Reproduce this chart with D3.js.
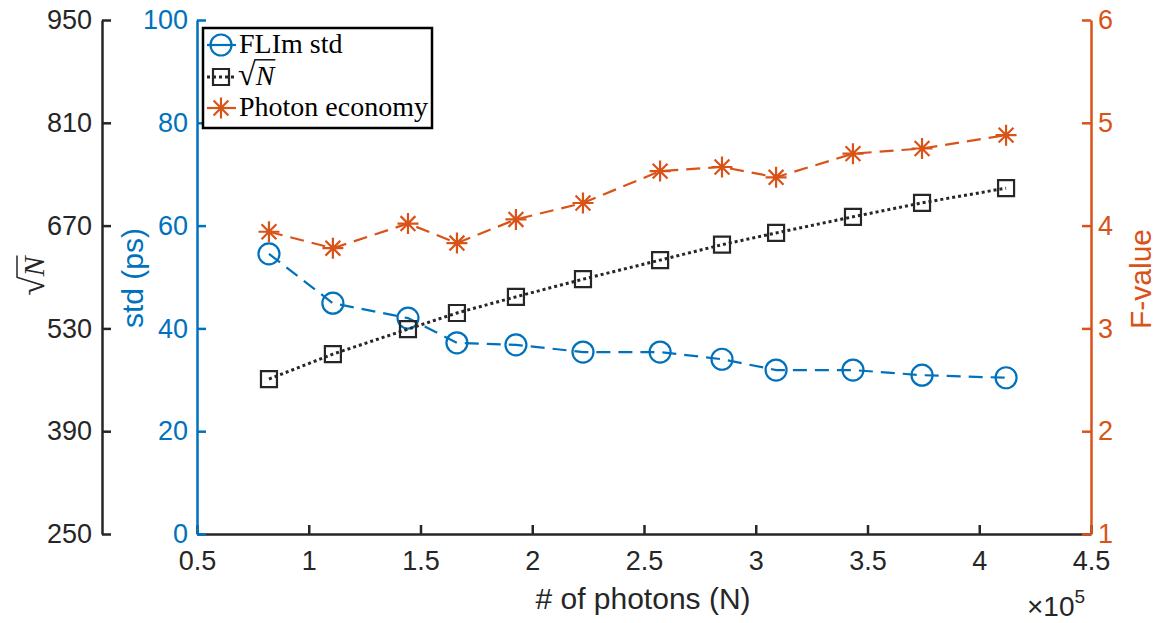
<!DOCTYPE html>
<html>
<head>
<meta charset="utf-8">
<script src="https://cdn.jsdelivr.net/npm/d3@7"></script>
<style>
  body { margin: 0; background: #fff; }
  svg { display: block; }
</style>
</head>
<body>
<script>
var w = 1166;
var h = 623;

// data
var photons = [82200, 110800, 144400, 166300, 192700, 222700, 257200, 284900, 309100, 343500, 374400, 412000];
var flimStd = [54.5, 44.9, 42.0, 37.2, 36.8, 35.4, 35.4, 34.0, 31.9, 31.9, 30.9, 30.4];
var sqrtN = [461, 495, 529, 551, 573, 597, 623, 644, 660, 682, 701, 721];
var fValue = [3.94, 3.78, 4.02, 3.83, 4.06, 4.22, 4.53, 4.57, 4.47, 4.70, 4.75, 4.88];

var xTicks = [50000, 100000, 150000, 200000, 250000, 300000, 350000, 400000, 450000];
var stdTicks = [0, 20, 40, 60, 80, 100];
var sqrtTicks = [250, 390, 530, 670, 810, 950];
var fTicks = [1, 2, 3, 4, 5, 6];
var legendLabels = ["FLIm std", "sqrtN", "Photon economy"];

var blue = "#0072BD";
var orange = "#D95319";
var dark = "#262626";
var sansFont = "'Liberation Sans', Arial, Helvetica, sans-serif";
var serifFont = "'Liberation Serif', 'Times New Roman', serif";

var x = d3.scaleLinear().domain([50000, 450000]).range([197, 1091]);
var yStd = d3.scaleLinear().domain([0, 100]).range([534, 20]);
var ySqrt = d3.scaleLinear().domain([250, 950]).range([534, 20]);
var yF = d3.scaleLinear().domain([1, 6]).range([534, 20]);

var svg = d3.select("body")
  .append("svg")
  .attr("width", w)
  .attr("height", h);

function styleAxis(g, color, size) {
  g.selectAll("path.domain").attr("stroke", color).attr("stroke-width", 2.5);
  g.selectAll(".tick line").attr("stroke", color).attr("stroke-width", 2.5);
  g.selectAll(".tick text")
    .attr("fill", color)
    .attr("font-family", sansFont)
    .attr("font-size", size + "px");
  g.attr("font-family", null).attr("font-size", null);
}

// x axis
var gx = svg.append("g")
  .attr("transform", "translate(0,534)")
  .call(d3.axisBottom(x).tickValues(xTicks).tickSizeInner(-9).tickSizeOuter(0).tickPadding(17)
    .tickFormat(function(d) { return d / 100000; }));
styleAxis(gx, dark, 27);

// outer black axis (sqrt N)
var gs = svg.append("g")
  .attr("transform", "translate(102,0)")
  .call(d3.axisLeft(ySqrt).tickValues(sqrtTicks).tickSizeInner(-9).tickSizeOuter(0).tickPadding(10));
styleAxis(gs, dark, 27);

// blue axis (std)
var gb = svg.append("g")
  .attr("transform", "translate(197,0)")
  .call(d3.axisLeft(yStd).tickValues(stdTicks).tickSizeInner(-9).tickSizeOuter(0).tickPadding(9));
styleAxis(gb, blue, 27);

// orange axis (F-value)
var gf = svg.append("g")
  .attr("transform", "translate(1091,0)")
  .call(d3.axisRight(yF).tickValues(fTicks).tickSizeInner(-9).tickSizeOuter(0).tickPadding(7)
    .tickFormat(d3.format("d")));
styleAxis(gf, orange, 27);

// star marker like matlab '*'
var starSymbol = {
  draw: function(context, size) {
    var r = Math.sqrt(size);
    var d = r * Math.SQRT1_2;
    context.moveTo(-r, 0); context.lineTo(r, 0);
    context.moveTo(0, -r); context.lineTo(0, r);
    context.moveTo(-d, -d); context.lineTo(d, d);
    context.moveTo(-d, d); context.lineTo(d, -d);
  }
};

var series = [
  { values: flimStd, y: yStd, color: blue, dash: "14,8", width: 2.2, symbol: d3.symbolCircle, size: Math.PI * 10.5 * 10.5 },
  { values: sqrtN, y: ySqrt, color: dark, dash: "3,3", width: 3, symbol: d3.symbolSquare, size: 16 * 16 },
  { values: fValue, y: yF, color: orange, dash: "14,8", width: 2.2, symbol: starSymbol, size: 10.5 * 10.5 }
];

series.forEach(function(s) {
  var line = d3.line()
    .x(function(d, i) { return x(photons[i]); })
    .y(function(d) { return s.y(d); });

  svg.append("path")
    .datum(s.values)
    .attr("d", line)
    .attr("fill", "none")
    .attr("stroke", s.color)
    .attr("stroke-width", s.width)
    .attr("stroke-dasharray", s.dash);

  svg.selectAll(null)
    .data(s.values)
    .enter()
    .append("path")
    .attr("d", d3.symbol().type(s.symbol).size(s.size))
    .attr("transform", function(d, i) { return "translate(" + x(photons[i]) + "," + s.y(d) + ")"; })
    .attr("fill", "none")
    .attr("stroke", s.color)
    .attr("stroke-width", 2.2);
});

// draws a radical sign with italic N on baseline 0; returns width
function drawSqrtN(g, fs, color) {
  var t1 = g.append("text")
    .attr("x", 0).attr("y", 0)
    .attr("font-family", serifFont)
    .attr("font-size", (fs * 1.15) + "px")
    .attr("fill", color)
    .text("\u221A");
  var w1 = t1.node().getComputedTextLength();
  var t2 = g.append("text")
    .attr("x", w1).attr("y", 0)
    .attr("font-family", serifFont)
    .attr("font-style", "italic")
    .attr("font-size", fs + "px")
    .attr("fill", color)
    .text("N");
  var w2 = t2.node().getComputedTextLength();
  g.append("line")
    .attr("x1", w1 - 1).attr("x2", w1 + w2 + 1)
    .attr("y1", -0.9 * fs).attr("y2", -0.9 * fs)
    .attr("stroke", color)
    .attr("stroke-width", fs * 0.05);
  return w1 + w2;
}

// axis titles
svg.append("text")
  .attr("x", 643).attr("y", 609)
  .attr("text-anchor", "middle")
  .attr("font-family", sansFont)
  .attr("font-size", "30px")
  .attr("fill", dark)
  .text("# of photons (N)");

svg.append("text")
  .attr("transform", "translate(143,278) rotate(-90)")
  .attr("text-anchor", "middle")
  .attr("font-family", sansFont)
  .attr("font-size", "30px")
  .attr("fill", blue)
  .text("std (ps)");

svg.append("text")
  .attr("transform", "translate(1151,279) rotate(-90)")
  .attr("text-anchor", "middle")
  .attr("font-family", sansFont)
  .attr("font-size", "30px")
  .attr("fill", orange)
  .text("F-value");

var gt = svg.append("g").attr("transform", "translate(44,276) rotate(-90)");
var gtIn = gt.append("g");
var tw = drawSqrtN(gtIn, 30, dark);
gtIn.attr("transform", "translate(" + (-tw / 2) + ",0)");

// x10^5 exponent label
var ex = svg.append("text")
  .attr("x", 1027).attr("y", 616)
  .attr("font-family", sansFont)
  .attr("font-size", "28px")
  .attr("fill", dark);
ex.append("tspan").text("\u00D710");
ex.append("tspan").attr("font-size", "19px").attr("dy", -13).text("5");

// legend
var legend = svg.append("g");
legend.append("rect")
  .attr("x", 203).attr("y", 28)
  .attr("width", 229).attr("height", 100)
  .attr("fill", "#fff")
  .attr("stroke", "#000")
  .attr("stroke-width", 2.5);

var rowY = [45, 77, 108];
series.forEach(function(s, i) {
  legend.append("line")
    .attr("x1", 207).attr("x2", 236)
    .attr("y1", rowY[i]).attr("y2", rowY[i])
    .attr("stroke", s.color)
    .attr("stroke-width", s.width)
    .attr("stroke-dasharray", i === 1 ? "3,3" : null);
  legend.append("path")
    .attr("d", d3.symbol().type(s.symbol).size(s.size))
    .attr("transform", "translate(221," + rowY[i] + ")")
    .attr("fill", "none")
    .attr("stroke", s.color)
    .attr("stroke-width", 2.2);
  if (i === 1) {
    var gl = legend.append("g").attr("transform", "translate(238," + (rowY[i] + 8) + ")");
    drawSqrtN(gl, 28, "#000");
  } else {
    legend.append("text")
      .attr("x", 239).attr("y", rowY[i] + 8)
      .attr("font-family", serifFont)
      .attr("font-size", "28px")
      .attr("fill", "#000")
      .text(legendLabels[i]);
  }
});
</script>
</body>
</html>
